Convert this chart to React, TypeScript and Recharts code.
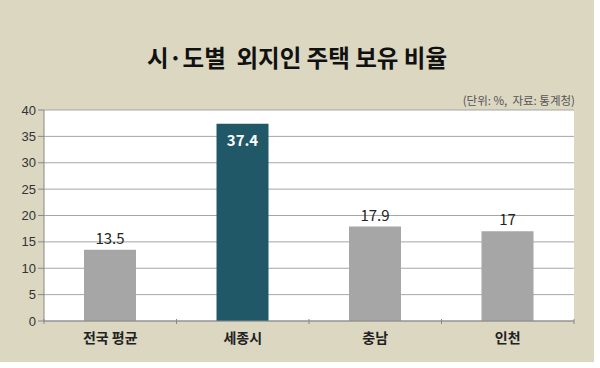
import React from "react";
import {
  BarChart,
  Bar,
  XAxis,
  YAxis,
  CartesianGrid,
  Cell,
  LabelList,
} from "recharts";

const regions = ["전국 평균", "세종시", "충남", "인천"];
const ratios = [13.5, 37.4, 17.9, 17];
const barColors = ["#a6a6a6", "#215868", "#a6a6a6", "#a6a6a6"];
const yTicks = [0, 5, 10, 15, 20, 25, 30, 35, 40];

const data = regions.map((name, i) => ({ name, value: ratios[i] }));

const FONT = "'Noto Sans CJK KR', 'Noto Sans', sans-serif";

// x축: 라벨 + 카테고리 경계 눈금
function RegionTick(props: any) {
  const { x, y, payload, index, visibleTicksCount } = props;
  const off = payload.offset ?? 0;
  const last = index === visibleTicksCount - 1;
  return (
    <g>
      <line x1={x - off} x2={x - off} y1={y - 2} y2={y + 3} stroke="#888" />
      {last && <line x1={x + off} x2={x + off} y1={y - 2} y2={y + 3} stroke="#888" />}
      <text
        x={x}
        y={y + 22}
        textAnchor="middle"
        fontFamily={FONT}
        fontWeight={700}
        fontSize={14}
        fill="#222"
      >
        {payload.value}
      </text>
    </g>
  );
}

function ValueLabel(props: any) {
  const { x, y, width, value, index } = props;
  const inside = index === 1;
  return (
    <text
      x={x + width / 2}
      y={inside ? y + 22 : y - 6}
      textAnchor="middle"
      fontFamily={FONT}
      fontWeight={inside ? 700 : 400}
      fontSize={15}
      fill={inside ? "#ffffff" : "#222"}
    >
      {value}
    </text>
  );
}

export default function App() {
  return (
    <div
      style={{
        position: "absolute",
        left: 0,
        top: 0,
        width: 600,
        height: 368,
        background: "#ffffff",
      }}
    >
      <div
        style={{
          position: "absolute",
          left: 0,
          top: 0,
          width: 594,
          height: 362,
          background: "#dcd7c1",
        }}
      />
      <div
        style={{
          position: "absolute",
          left: 0,
          top: 40,
          width: 594,
          textAlign: "center",
          fontFamily: FONT,
          fontWeight: 700,
          fontSize: 23.5,
          color: "#111",
          whiteSpace: "pre",
        }}
      >
        {"시·도별  외지인 주택 보유 비율"}
      </div>
      <div
        style={{
          position: "absolute",
          right: 25,
          top: 92,
          fontFamily: FONT,
          fontSize: 11.5,
          color: "#555",
          whiteSpace: "pre",
        }}
      >
        {"(단위: %,  자료: 통계청)"}
      </div>
      <div style={{ position: "absolute", left: 0, top: 0 }}>
        <BarChart
          width={600}
          height={368}
          data={data}
          margin={{ top: 110, right: 26, left: 2, bottom: 17 }}
          barSize={52}
        >
          <CartesianGrid
            vertical={false}
            stroke="#a6a6a6"
            fill="#ffffff"
            fillOpacity={1}
          />
          <XAxis
            dataKey="name"
            stroke="#888"
            tickLine={false}
            tickSize={0}
            tickMargin={0}
            tick={<RegionTick />}
            height={30}
            interval={0}
          />
          <YAxis
            domain={[0, 40]}
            ticks={yTicks}
            stroke="#888"
            tickSize={6}
            tickMargin={2}
            width={42}
            tick={{ fontSize: 13, fill: "#333", fontFamily: "'Liberation Sans', Arial, sans-serif" }}
            interval={0}
          />
          <Bar dataKey="value" isAnimationActive={false}>
            {data.map((d, i) => (
              <Cell key={d.name} fill={barColors[i]} />
            ))}
            <LabelList dataKey="value" content={<ValueLabel />} />
          </Bar>
        </BarChart>
      </div>
    </div>
  );
}
